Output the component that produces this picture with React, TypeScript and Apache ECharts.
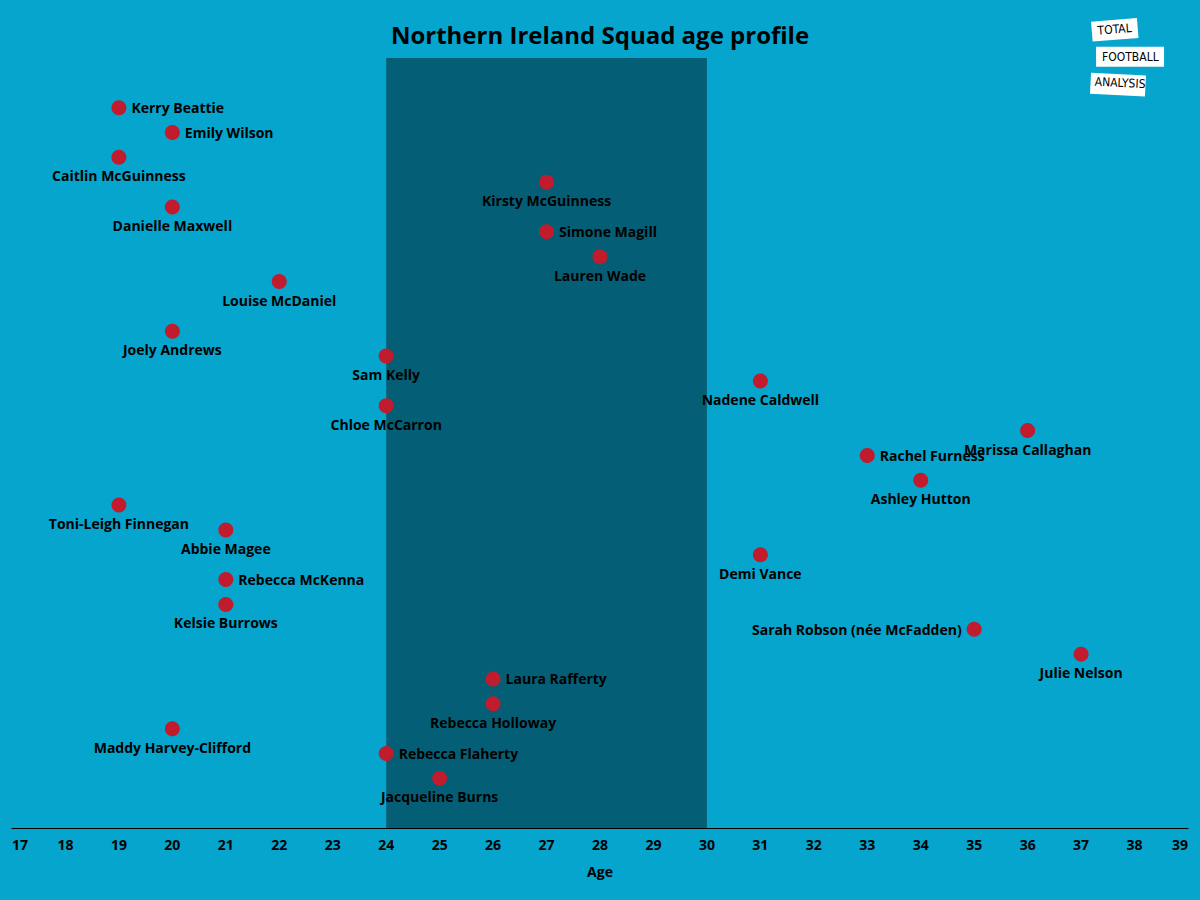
import React, { useEffect, useRef } from "react";
import * as echarts from "echarts";

const players = [
  "Kerry Beattie", "Emily Wilson", "Caitlin McGuinness", "Kirsty McGuinness", "Danielle Maxwell",
  "Simone Magill", "Lauren Wade", "Louise McDaniel", "Joely Andrews", "Sam Kelly",
  "Nadene Caldwell", "Chloe McCarron", "Marissa Callaghan", "Rachel Furness", "Ashley Hutton",
  "Toni-Leigh Finnegan", "Abbie Magee", "Demi Vance", "Rebecca McKenna", "Kelsie Burrows",
  "Sarah Robson (née McFadden)", "Julie Nelson", "Laura Rafferty", "Rebecca Holloway",
  "Maddy Harvey-Clifford", "Rebecca Flaherty", "Jacqueline Burns",
];
const ages = [19, 20, 19, 27, 20, 27, 28, 22, 20, 24, 31, 24, 36, 33, 34, 19, 21, 31, 21, 21, 35, 37, 26, 26, 20, 24, 25];
const rows = [0, 1, 2, 3, 4, 5, 6, 7, 9, 10, 11, 12, 13, 14, 15, 16, 17, 18, 19, 20, 21, 22, 23, 24, 25, 26, 27];
const labelSide = [
  "right", "right", "bottom", "bottom", "bottom", "right", "bottom", "bottom", "bottom", "bottom",
  "bottom", "bottom", "bottom", "right", "bottom", "bottom", "bottom", "bottom", "right", "bottom",
  "left", "bottom", "right", "bottom", "bottom", "right", "bottom",
];
const primeStart = 24;
const primeEnd = 30;

const FONT = "'Open Sans', Lato, sans-serif";

export default function App() {
  const ref = useRef<HTMLDivElement>(null);
  useEffect(() => {
    const chart = echarts.init(ref.current!, null, { renderer: "svg" });
    const data = players.map((name, i) => ({
      value: [ages[i], rows[i]],
      name,
      label: {
        show: true,
        position: labelSide[i],
        distance: labelSide[i] === "bottom" ? 4 : 5,
        formatter: name,
      },
    }));
    chart.setOption({
      animation: false,
      backgroundColor: "#05a5cd",
      title: {
        text: "Northern Ireland Squad age profile",
        left: "center",
        top: 17,
        textStyle: { fontFamily: FONT, fontWeight: "bold", fontSize: 24, color: "#000" },
      },
      grid: { left: 12, right: 12, top: 58, bottom: 72 },
      xAxis: {
        type: "value",
        min: 17,
        max: 39,
        interval: 1,
        name: "Age",
        nameLocation: "middle",
        nameGap: 36,
        nameTextStyle: { fontFamily: FONT, fontWeight: "bold", fontSize: 14, color: "#000" },
        axisLine: { show: true, onZero: false, lineStyle: { color: "#000", width: 1 } },
        axisTick: { show: false },
        splitLine: { show: false },
        axisLabel: {
          margin: 9,
          fontFamily: FONT,
          fontWeight: "bold",
          fontSize: 14,
          color: "#000",
          alignMinLabel: "left",
          alignMaxLabel: "right",
        },
      },
      yAxis: {
        type: "value",
        min: -2,
        max: 29,
        inverse: true,
        show: false,
        splitLine: { show: false },
      },
      series: [
        {
          type: "scatter",
          symbolSize: 15,
          itemStyle: { color: "#c11b2e", opacity: 1 },
          label: {
            fontFamily: FONT,
            fontWeight: "bold",
            fontSize: 14,
            color: "#000",
          },
          data,
          z: 3,
          markArea: {
            silent: true,
            itemStyle: { color: "#045f76", opacity: 1 },
            data: [[{ xAxis: primeStart }, { xAxis: primeEnd }]],
          },
        },
      ],
      graphic: [
        {
          type: "group",
          left: 1090,
          top: 18,
          children: [
            { type: "rect", x: 2, y: 4, rotation: 0.08, shape: { width: 46, height: 20 }, style: { fill: "#fff" } },
            { type: "text", x: 8, y: 7, rotation: 0.08, style: { text: "TOTAL", fontFamily: "'DejaVu Sans Condensed', sans-serif", fontSize: 12, fill: "#000" } },
            { type: "rect", x: 7, y: 29, shape: { width: 68, height: 20 }, style: { fill: "#fff" } },
            { type: "text", x: 13, y: 33, style: { text: "FOOTBALL", fontFamily: "'DejaVu Sans Condensed', sans-serif", fontSize: 12, fill: "#000" } },
            { type: "rect", x: 2, y: 55, rotation: -0.05, shape: { width: 55, height: 21 }, style: { fill: "#fff" } },
            { type: "text", x: 6, y: 58, rotation: -0.05, style: { text: "ANALYSIS", fontFamily: "'DejaVu Sans Condensed', sans-serif", fontSize: 12, fill: "#000" } },
          ],
        },
      ],
    });
    return () => chart.dispose();
  }, []);
  return <div ref={ref} style={{ width: 1200, height: 900, position: "absolute", left: 0, top: 0 }} />;
}
